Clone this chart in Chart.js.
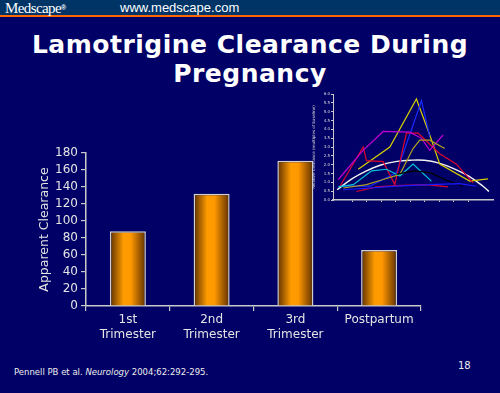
<!DOCTYPE html>
<html>
<head>
<meta charset="utf-8">
<script src="https://cdn.jsdelivr.net/npm/chart.js@4"></script>
<style>
  html, body { margin: 0; padding: 0; }
  body { width: 500px; height: 393px; background: #000066; position: relative; overflow: hidden; font-family: "DejaVu Sans", Verdana, sans-serif; }
  #hdr { position: absolute; left: 0; top: 0; width: 500px; height: 15px; background: #003366; }
  #hdrline { position: absolute; left: 0; top: 15px; width: 500px; height: 2px; background: #ff6600; }
  #brand { position: absolute; left: 5px; top: 0px; font-family: "Liberation Serif", serif; font-size: 15px; line-height: 15px; color: #fff; letter-spacing: -0.6px; }
  #brand sup { font-size: 7px; vertical-align: 3px; font-family: "Liberation Sans", sans-serif; font-weight: bold; }
  #url { position: absolute; left: 120px; top: 0px; font-family: "Liberation Sans", Arial, sans-serif; font-size: 13px; line-height: 15px; color: #fff; }
  #title { position: absolute; left: 0; top: 30px; width: 500px; text-align: center; color: #fff; font-family: "DejaVu Sans", Verdana, sans-serif; font-weight: bold; font-size: 25px; letter-spacing: 0.5px; line-height: 29px; }
  #main { position: absolute; left: 0; top: 140px; width: 440px; height: 210px; }
  #inset { position: absolute; left: 312px; top: 88px; width: 184px; height: 117px; }
  #cite { position: absolute; left: 14px; top: 367px; font-size: 8.5px; color: #eee; white-space: nowrap; }
  #cite i { font-style: italic; }
  #page { position: absolute; left: 458px; top: 360px; font-size: 10px; color: #eee; }
</style>
</head>
<body>
<div id="hdr"></div>
<div id="hdrline"></div>
<div id="brand">Medscape<sup>®</sup></div>
<div id="url">www.medscape.com</div>
<div id="title">Lamotrigine Clearance During<br>Pregnancy</div>
<div id="main"><canvas id="c1" width="440" height="210"></canvas></div>
<div id="inset"><canvas id="c2" width="184" height="117"></canvas></div>
<div id="cite">Pennell PB et al. <i>Neurology</i> 2004;62:292-295.</div>
<div id="page">18</div>
<script>
// ---- main chart data ----
const categories = [["1st", "Trimester"], ["2nd", "Trimester"], ["3rd", "Trimester"], "Postpartum"];
const clearance = [88, 132, 171, 66];
const yTicksMax = 180;
const yTickStep = 20;
const yTitle = "Apparent Clearance";

// ---- inset chart data: [x, relative clearance] ----
const insetYellow = [[1.40,1.74],[3.58,3.00],[5.41,5.72],[6.33,3.68],[7.02,2.03],[9.08,1.07],[10.34,1.20]];
const insetBlue = [[0.37,0.78],[2.20,0.78],[4.04,1.55],[5.76,5.62],[6.33,3.59]];
const insetMagenta = [[0.02,1.16],[1.74,2.81],[3.12,3.88],[4.95,3.84],[5.76,3.49],[6.33,2.81],[7.25,3.68]];
const insetRed = [[0.14,0.78],[1.74,3.00],[1.97,2.23],[3.12,2.17],[3.92,0.87],[4.72,3.78],[5.53,3.78],[7.02,2.62],[8.17,2.03],[9.31,0.97]];
const insetWhite = [[-0.05,0.58],[0.96,1.20],[1.97,1.65],[2.96,1.98],[3.97,2.17],[4.98,2.25],[5.96,2.25],[6.97,2.09],[7.98,1.78],[8.99,1.36],[10.0,0.78],[10.41,0.48]];
const insetCyan = [[0.02,0.74],[1.06,0.87],[2.32,1.65],[3.35,1.74],[4.27,1.36],[5.18,2.03],[6.44,1.07]];
const insetRedLow = [[1.28,0.48],[2.66,0.74],[4.04,0.81],[6.10,0.87],[7.59,0.74]];
const insetBlueLow = [[0.37,0.58],[2.20,0.68],[4.04,0.78],[6.33,0.87],[8.39,0.93],[9.54,0.78]];
const insetOlive = [[0.37,0.68],[1.97,0.87],[3.12,1.16],[4.27,1.45],[5.18,2.91],[5.64,3.39],[6.33,3.39],[7.36,2.91]];
const insetBlack = [[4.04,1.45],[5.18,1.65],[6.33,1.55],[7.36,1.16],[8.62,0.78]];
const insetYTitle = "Relative Clearance (multiples of baseline)";

const BAR_PCT = 0.43;

function barGradient(ctx) {
  const chart = ctx.chart;
  const xs = chart.scales && chart.scales.x;
  if (!chart.chartArea || !xs || ctx.dataIndex === undefined) return '#ff9900';
  const cx = xs.getPixelForValue(ctx.dataIndex);
  const w = (xs.width / categories.length) * BAR_PCT;
  const g = chart.ctx.createLinearGradient(cx - w / 2, 0, cx + w / 2, 0);
  g.addColorStop(0, '#5c2f00');
  g.addColorStop(0.38, '#ff9c00');
  g.addColorStop(0.58, '#ff9800');
  g.addColorStop(1, '#5c2f00');
  return g;
}

const tickColor = '#e4e4e4';
const axisColor = '#c8c8c8';

new Chart(document.getElementById('c1'), {
  type: 'bar',
  data: {
    labels: categories,
    datasets: [{
      data: clearance,
      backgroundColor: barGradient,
      borderColor: '#d0d0d0',
      borderWidth: 1.5,
      borderSkipped: 'bottom',
      categoryPercentage: 1,
      barPercentage: BAR_PCT
    }]
  },
  options: {
    responsive: false,
    animation: false,
    layout: { padding: { left: 33, top: 13, right: 19, bottom: 0 } },
    plugins: { legend: { display: false }, tooltip: { enabled: false } },
    scales: {
      x: {
        offset: true,
        grid: { display: true, drawOnChartArea: false, offset: true, tickLength: 5, color: axisColor, lineWidth: 1.2 },
        border: { color: axisColor, width: 1.5 },
        ticks: { color: tickColor, padding: 2, font: { family: 'DejaVu Sans', size: 12 }, maxRotation: 0, autoSkip: false },
        afterFit: s => { s.height = 44; }
      },
      y: {
        min: 0, max: yTicksMax,
        grid: { display: true, drawOnChartArea: false, tickLength: 5, color: axisColor, lineWidth: 1.2 },
        border: { color: axisColor, width: 1.5 },
        ticks: { stepSize: yTickStep, autoSkip: false, color: tickColor, padding: 3, font: { family: 'DejaVu Sans', size: 12 } },
        title: { display: true, text: yTitle, color: tickColor, font: { family: 'DejaVu Sans', size: 12.5 }, padding: { top: 4, bottom: 0 } },
        afterFit: s => { s.width = 53; }
      }
    }
  }
});

function ds(points, color, width) {
  return {
    data: points.map(p => ({ x: p[0], y: p[1] })),
    borderColor: color,
    borderWidth: width || 1.2,
    pointRadius: 0,
    fill: false,
    tension: 0
  };
}

const whiteSet = ds(insetWhite, '#f2f2f2', 1.4);
whiteSet.tension = 0.4;

new Chart(document.getElementById('c2'), {
  type: 'line',
  data: {
    datasets: [
      ds(insetBlueLow, '#1a1aff'),
      ds(insetRedLow, '#e0002a'),
      ds(insetBlack, '#000000'),
      ds(insetCyan, '#00c8d8'),
      ds(insetOlive, '#b0a020'),
      ds(insetMagenta, '#c000d0'),
      ds(insetRed, '#e00030'),
      ds(insetBlue, '#1a2aff'),
      ds(insetYellow, '#d8d000'),
      whiteSet
    ]
  },
  options: {
    responsive: false,
    animation: false,
    layout: { padding: { left: 0, top: 6, right: 3, bottom: 0 } },
    plugins: { legend: { display: false }, tooltip: { enabled: false } },
    scales: {
      x: {
        type: 'linear', min: -0.34, max: 10.69,
        grid: { drawOnChartArea: false, tickLength: 2, color: '#c8c8c8' },
        border: { color: '#c8c8c8', width: 1.5 },
        ticks: { display: false, stepSize: 1 },
        afterBuildTicks: s => { s.ticks = s.ticks.filter(t => Number.isInteger(t.value) && t.value >= 0); },
        afterFit: s => { s.height = 5; }
      },
      y: {
        min: 0, max: 6,
        grid: { drawOnChartArea: false, tickLength: 2, color: '#c8c8c8' },
        border: { color: '#c8c8c8', width: 1 },
        ticks: { stepSize: 0.5, autoSkip: false, color: '#dddddd', padding: 1, font: { family: 'DejaVu Sans', size: 4 }, callback: v => v.toFixed(1) },
        title: { display: true, text: insetYTitle, color: '#dddddd', font: { family: 'DejaVu Sans', size: 4 }, padding: 0 },
        afterFit: s => { s.width = 21; }
      }
    }
  }
});
</script>
</body>
</html>
